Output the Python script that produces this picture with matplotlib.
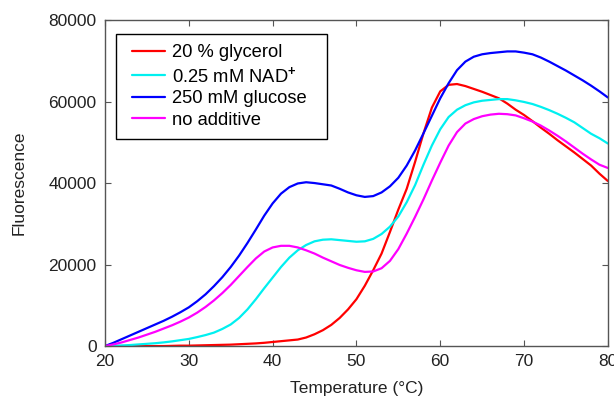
import matplotlib
matplotlib.use("Agg")
import matplotlib.pyplot as plt
from matplotlib.legend_handler import HandlerLine2D

plt.rcParams['font.family'] = ['Liberation Sans', 'DejaVu Sans']
plt.rcParams['mathtext.fontset'] = 'custom'
plt.rcParams['mathtext.rm'] = 'Liberation Sans'
plt.rcParams['mathtext.it'] = 'Liberation Sans:italic'
plt.rcParams['mathtext.bf'] = 'Liberation Sans:bold'

temperature = list(range(20, 81))

glycerol = [0, 0, 0, 0, 0, 0, 0, 0, 50, 100,
            100, 150, 200, 250, 300, 350, 450, 550, 650, 800,
            1000, 1200, 1400, 1600, 2100, 2900, 3900, 5200, 6900, 9000,
            11500, 14800, 18600, 22700, 28000, 33500, 38600, 45200, 52200, 58500,
            62500, 64100, 64300, 63800, 63100, 62400, 61600, 60800, 59500, 58000,
            56700, 55200, 53600, 52100, 50500, 49000, 47500, 45900, 44300, 42300,
            40500]

nad = [0, 50, 150, 250, 400, 550, 700, 900, 1150, 1450,
       1750, 2200, 2700, 3300, 4200, 5300, 6900, 9000, 11500, 14200,
       16800, 19400, 21700, 23500, 24800, 25700, 26100, 26200, 26000, 25800,
       25600, 25700, 26300, 27500, 29300, 31800, 35300, 39500, 44500, 49200,
       53200, 56200, 58000, 59100, 59800, 60200, 60400, 60600, 60600, 60300,
       59900, 59400, 58700, 57900, 57000, 56000, 54900, 53500, 52100, 51000,
       49700]

glucose = [0, 800, 1700, 2600, 3500, 4400, 5300, 6200, 7200, 8300,
           9500, 11000, 12700, 14700, 16900, 19400, 22200, 25300, 28600, 32000,
           35000, 37400, 39000, 39900, 40200, 40000, 39700, 39400, 38600, 37700,
           37000, 36600, 36800, 37700, 39200, 41300, 44300, 48000, 52200, 56500,
           60800, 64500, 67700, 69800, 71000, 71600, 71900, 72100, 72300, 72300,
           72000, 71600, 70800, 69800, 68700, 67600, 66400, 65200, 63900, 62500,
           61000]

no_additive = [0, 400, 900, 1500, 2100, 2800, 3500, 4300, 5100, 6000,
               7000, 8200, 9600, 11200, 13000, 15000, 17200, 19400, 21500, 23200,
               24200, 24600, 24600, 24200, 23500, 22700, 21700, 20800, 19900, 19200,
               18600, 18200, 18300, 19100, 20900, 23800, 27600, 31700, 36000, 40600,
               45000, 49200, 52500, 54600, 55700, 56400, 56800, 57000, 56900, 56600,
               55900, 55100, 54100, 52900, 51600, 50200, 48700, 47200, 45800, 44500,
               43700]

labels = ['20 % glycerol', '0.25 mM NAD$^{\\mathbf{+}}$', '250 mM glucose', 'no additive']
colors = ['#ff0000', '#00f0f0', '#0000ff', '#ff00ff']
series = [glycerol, nad, glucose, no_additive]

x_ticks = [20, 30, 40, 50, 60, 70, 80]
y_ticks = [0, 20000, 40000, 60000, 80000]

fig = plt.figure(figsize=(6.14, 4.01), dpi=100)
ax = fig.add_axes([0.171, 0.137, 0.819, 0.813])

lines = []
for data, lab, col in zip(series, labels, colors):
    ln, = ax.plot(temperature, data, color=col, lw=1.6, label=lab, solid_capstyle='round')
    lines.append(ln)

ax.set_xlim(20, 80)
ax.set_ylim(0, 80000)
ax.set_xticks(x_ticks)
ax.set_yticks(y_ticks)
ax.tick_params(direction='in', top=True, right=True, length=4, width=0.8,
               color='#555555', labelsize=12.5, labelcolor='#222222', pad=6)
for sp in ax.spines.values():
    sp.set_color('#555555')
    sp.set_linewidth(1.0)

ax.set_xlabel('Temperature (°C)', fontsize=12.5, color='#222222', labelpad=8)
ax.set_ylabel('Fluorescence', fontsize=12.5, color='#222222', labelpad=16)

leg = ax.legend(handles=lines, loc='upper left', bbox_to_anchor=(0.022, 0.0, 0.4195, 0.957),
                mode='expand', borderaxespad=0, fontsize=13.2, frameon=True, fancybox=False,
                edgecolor='black', framealpha=1, numpoints=2,
                handler_map={l: HandlerLine2D(marker_pad=0.3) for l in lines},
                handlelength=2.4, handletextpad=0.1, borderpad=0.55, labelspacing=0.25)
leg.get_frame().set_linewidth(1.0)

fig.savefig('out.png', dpi=100)
